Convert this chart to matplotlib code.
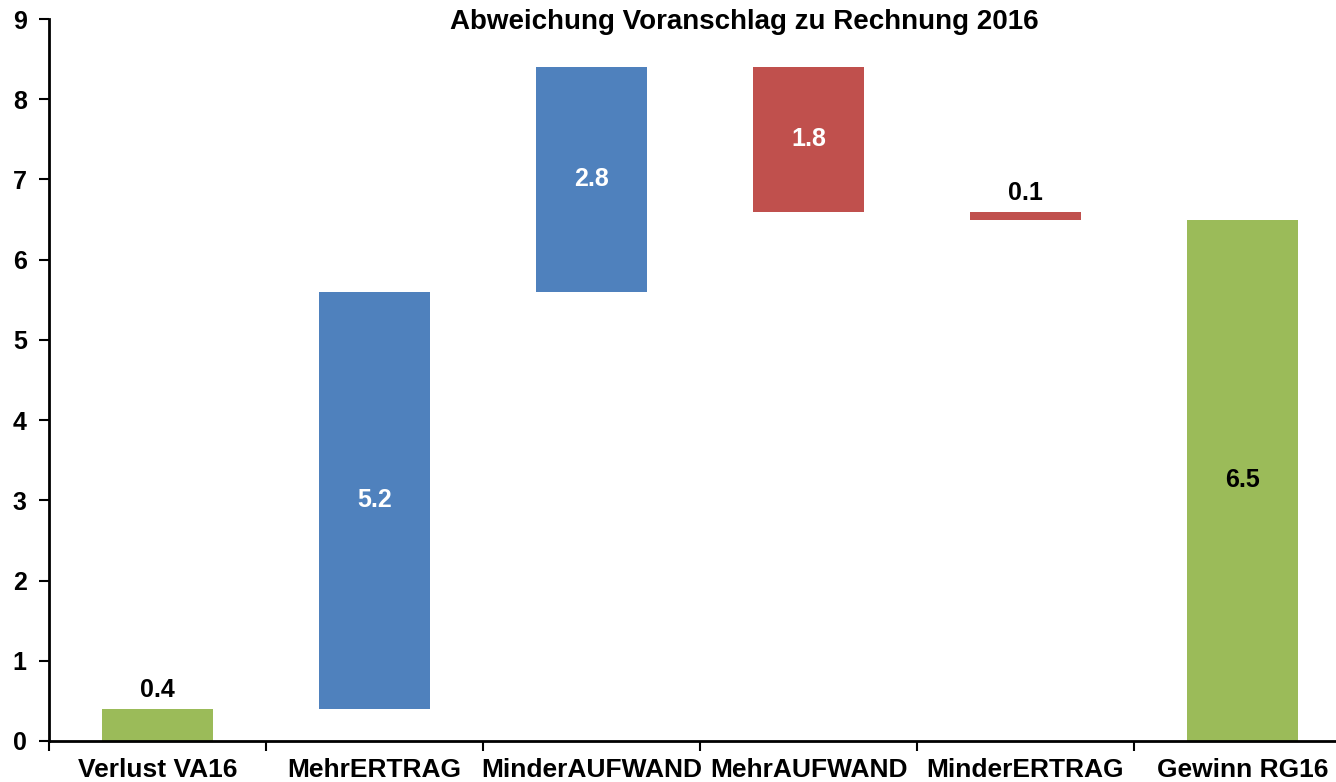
import matplotlib
matplotlib.use("Agg")
import matplotlib.pyplot as plt
from matplotlib import font_manager

categories = ["Verlust VA16", "MehrERTRAG", "MinderAUFWAND", "MehrAUFWAND", "MinderERTRAG", "Gewinn RG16"]
changes = [0.4, 5.2, 2.8, -1.8, -0.1, 6.5]
kinds = ["total", "step", "step", "step", "step", "total"]
title = "Abweichung Voranschlag zu Rechnung 2016"

GREEN = "#9BBB59"
BLUE = "#4F81BD"
RED = "#C0504D"

names = {f.name for f in font_manager.fontManager.ttflist}
narrow = "Liberation Sans Narrow" if "Liberation Sans Narrow" in names else "Liberation Sans"
plt.rcParams["font.family"] = [narrow, "DejaVu Sans"]
plt.rcParams["font.weight"] = "bold"

fig = plt.figure(figsize=(13.36, 7.82), dpi=100)
ax = fig.add_axes([49 / 1336, 41 / 782, 1302 / 1336, 722 / 782])

level = 0.0
for i, (cat, ch, kind) in enumerate(zip(categories, changes, kinds)):
    if kind == "total":
        bottom, height = 0.0, ch
        color = GREEN
        level = ch
    else:
        bottom = level if ch >= 0 else level + ch
        height = abs(ch)
        color = BLUE if ch >= 0 else RED
        level += ch
    ax.bar(i, height, bottom=bottom, width=0.51, color=color, zorder=2)
    label = f"{abs(ch):.1f}"
    if height < 0.5:
        ax.text(i, bottom + height + 0.08, label, ha="center", va="bottom",
                fontsize=18, fontweight="bold", color="black", family="Liberation Sans")
    else:
        tc = "black" if color == GREEN else "white"
        ax.text(i, bottom + height / 2, label, ha="center", va="center",
                fontsize=18, fontweight="bold", color=tc, family="Liberation Sans")

ax.set_xlim(-0.5, 5.5)
ax.set_ylim(0, 9)
ax.set_yticks(range(0, 10))
ax.set_yticklabels([str(v) for v in range(0, 10)], fontsize=18, fontweight="bold",
                   family="Liberation Sans")
ax.set_xticks([i - 0.5 for i in range(len(categories) + 1)])
ax.set_xticklabels([])
ax.set_xticks(range(len(categories)), minor=True)
ax.set_xticklabels(categories, minor=True, fontsize=19, fontweight="bold")
ax.tick_params(axis="x", which="minor", length=0, pad=12)
ax.tick_params(axis="x", which="major", direction="out", length=7, width=1.5)
ax.tick_params(axis="y", direction="out", length=7, width=1.5, pad=9)

for side in ("top", "right"):
    ax.spines[side].set_visible(False)
for side in ("left", "bottom"):
    ax.spines[side].set_linewidth(2)

fig.text(744 / 1336, 1 - 22 / 782, title, ha="center", va="center",
         fontsize=20, fontweight="bold", family="Liberation Sans")

fig.savefig("out.png", dpi=100)
